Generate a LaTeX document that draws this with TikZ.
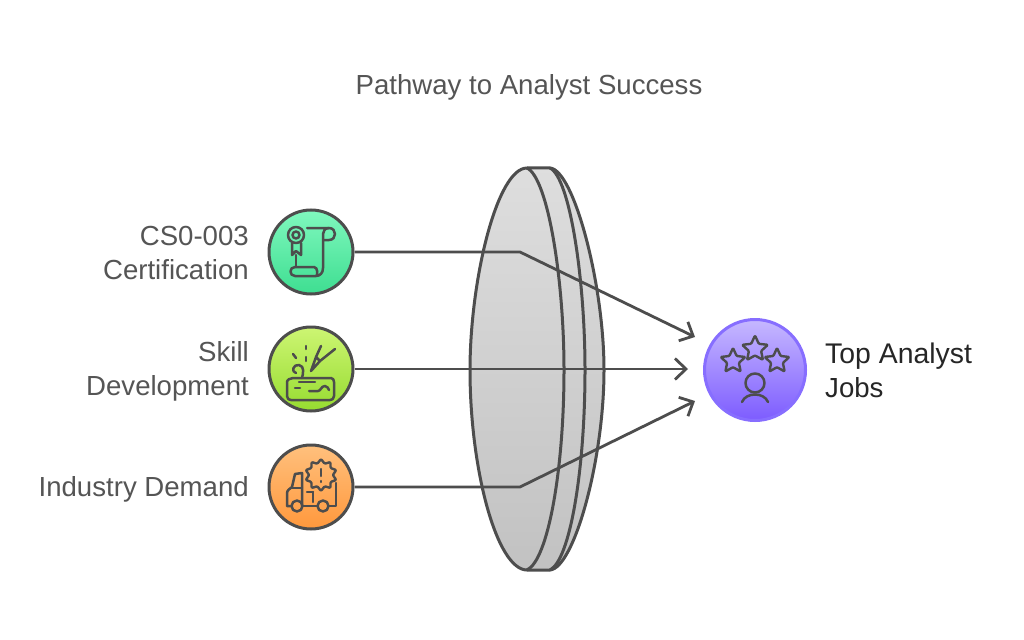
\documentclass[tikz,border=0pt]{standalone}
\usepackage{fontspec}
\setmainfont{Liberation Sans}
\usetikzlibrary{arrows.meta}
\usetikzlibrary{shapes.geometric}
\definecolor{ink}{HTML}{4D4D4D}
\definecolor{labelgray}{HTML}{555555}
\tikzset{
  outline/.style={draw=ink, line width=3pt, line join=round, line cap=round},
  iconline/.style={draw=ink, line width=2.5pt, line join=round, line cap=round},
  badge/.style={circle, draw=ink, line width=3pt, minimum size=84pt, inner sep=0},
  link/.style={draw=ink, line width=2.8pt, line join=round},
  tip/.style={-{Straight Barb[length=11pt,width=21pt,line width=2.8pt]}},
  labeltext/.style={font=\fontsize{27.6}{34}\selectfont, text=labelgray, inner sep=0},
  starmark/.style={star, star points=5, star point ratio=2.1, minimum size=#1, inner sep=0,
    draw=ink, line width=2.4pt, line join=round, rounded corners=1pt}
}
\begin{document}
\begin{tikzpicture}[x=1pt,y=-1pt]
\useasboundingbox (0,0) rectangle (1024,639);
\fill[white] (0,0) rectangle (1024,639);
\node[labeltext] (title) at (529,87) {Pathway to Analyst Success};
% lens
\path[top color=black!13, bottom color=black!24] (527,168) .. controls (497,168) and (470,280) .. (470,370)
  .. controls (470,470) and (497,570) .. (527,570) -- (550,570)
  .. controls (574,568) and (604,460) .. (604,370)
  .. controls (604,285) and (574,170) .. (550,168) -- cycle;
\draw[outline] (527,168) .. controls (497,168) and (470,280) .. (470,370)
  .. controls (470,470) and (497,570) .. (527,570) -- (550,570)
  .. controls (574,568) and (604,460) .. (604,370)
  .. controls (604,285) and (574,170) .. (550,168) -- cycle;
\draw[outline] (527,168) .. controls (548,178) and (564,280) .. (564,370)
  .. controls (564,470) and (548,560) .. (527,570);
\draw[outline] (550,168) .. controls (570,178) and (585,280) .. (585,370)
  .. controls (585,470) and (570,560) .. (550,570);
% badges
\node[badge, top color={rgb,255:red,128;green,248;blue,190}, bottom color={rgb,255:red,62;green,222;blue,145}] (cert) at (311,252) {};
\node[badge, top color={rgb,255:red,205;green,245;blue,115}, bottom color={rgb,255:red,150;green,220;blue,48}] (skill) at (311,369) {};
\node[badge, top color={rgb,255:red,255;green,192;blue,125}, bottom color={rgb,255:red,255;green,152;blue,60}] (demand) at (311,487) {};
\node[badge, draw={rgb,255:red,135;green,110;blue,255}, minimum size=101pt, top color={rgb,255:red,198;green,184;blue,255}, bottom color={rgb,255:red,125;green,92;blue,255}] (jobs) at (755,370) {};
% labels
\node[labeltext, anchor=east, align=right] (certlabel) at (249,253) {CS0-003\\Certification};
\node[labeltext, anchor=east, align=right] (skilllabel) at (249,371.5) {Skill\\Development};
\node[labeltext, anchor=east] (demandlabel) at (249,489.5) {Industry Demand};
\node[labeltext, anchor=west, align=left, text=black!85] (jobslabel) at (825,370) {\fontsize{28.4}{34}\selectfont Top Analyst\\Jobs};
% connectors
\coordinate (bendtop) at (520,252);
\coordinate (bendlow) at (520,487);
\coordinate (endtop) at (695,337);
\coordinate (endmid) at (688,369);
\coordinate (endlow) at (695,401);
\draw[link, tip] (cert.east) -- (bendtop) -- (endtop);
\draw[link, tip] (skill.east) -- (endmid);
\draw[link, tip] (demand.east) -- (bendlow) -- (endlow);
% certificate icon
\draw[iconline] (296,235) circle (8pt) (296,235) circle (3.5pt);
\draw[iconline] (292,243) -- (292,255) -- (296,251) -- (301,255) -- (301,243);
\draw[iconline] (307,228) -- (329,228) .. controls (337,228) and (337,240) .. (329,240) -- (324,240);
\draw[iconline] (329,228) .. controls (325,228) and (323,231) .. (323,234) -- (323,268) .. controls (323,273) and (320,276) .. (316,276) -- (295,276) .. controls (289,276) and (289,267) .. (295,267) -- (314,267) .. controls (318,267) and (318,276) .. (316,276);
\draw[iconline] (296,255) -- (296,267);
% skill icon
\draw[iconline] (293,378) -- (317,378) .. controls (320,378) and (320,378) .. (324,378) -- (331,378)
  .. controls (333,378) and (334,380) .. (334,382) -- (334,396) .. controls (334,399) and (332,400) .. (330,400)
  -- (291,400) .. controls (289,400) and (287,399) .. (287,396) -- (287,382) .. controls (287,380) and (290,378) .. (293,378);
\draw[iconline] (299,382) -- (315,382);
\draw[iconline] (295,388) -- (300,388);
\draw[iconline] (309,391) -- (318,391) .. controls (321,391) and (321,386) .. (325,386) .. controls (328,386) and (328,389) .. (329,390);
\draw[iconline] (320,361) -- (335,349);
\draw[iconline] (321,346) -- (316,357) -- (311,371) -- (320,361) -- (316,357);
\draw[iconline] (293,354) -- (296,358);
\draw[iconline] (306,346) -- (306,349);
\draw[iconline] (306,357) -- (306,361);
\draw[iconline] (296,373) .. controls (291,372) and (293,364) .. (299,365) .. controls (305,366) and (303,374) .. (302,378);
% truck icon
\node[starmark=32pt, star points=10, star point ratio=1.35] (burst) at (321,475) {};
\draw[iconline] (321,469) -- (321,476) (321,481) -- (321,482);
\draw[iconline] (336,483) -- (336,506) -- (329,506);
\draw[iconline] (317,506) -- (303,506);
\draw[iconline] (291,506) -- (287,506) -- (287,493) .. controls (287,490) and (291,488) .. (292,487) -- (295,474) -- (302,473) -- (302,506);
\draw[iconline] (292,488) -- (302,488);
\draw[iconline] (307,492) -- (313,492);
\draw[iconline] (313,492) -- (313,502);
\draw[iconline] (297,506) circle (5.5pt);
\draw[iconline] (323,506) circle (5.5pt);
% jobs icon
\node[starmark=26pt] (starleft) at (733,361) {};
\node[starmark=27pt] (starmid) at (755,349) {};
\node[starmark=26pt] (starright) at (777,361) {};
\draw[iconline] (755,383) circle (9.5pt);
\draw[iconline] (742,402) .. controls (746,392) and (764,392) .. (768,402);
\end{tikzpicture}
\end{document}
